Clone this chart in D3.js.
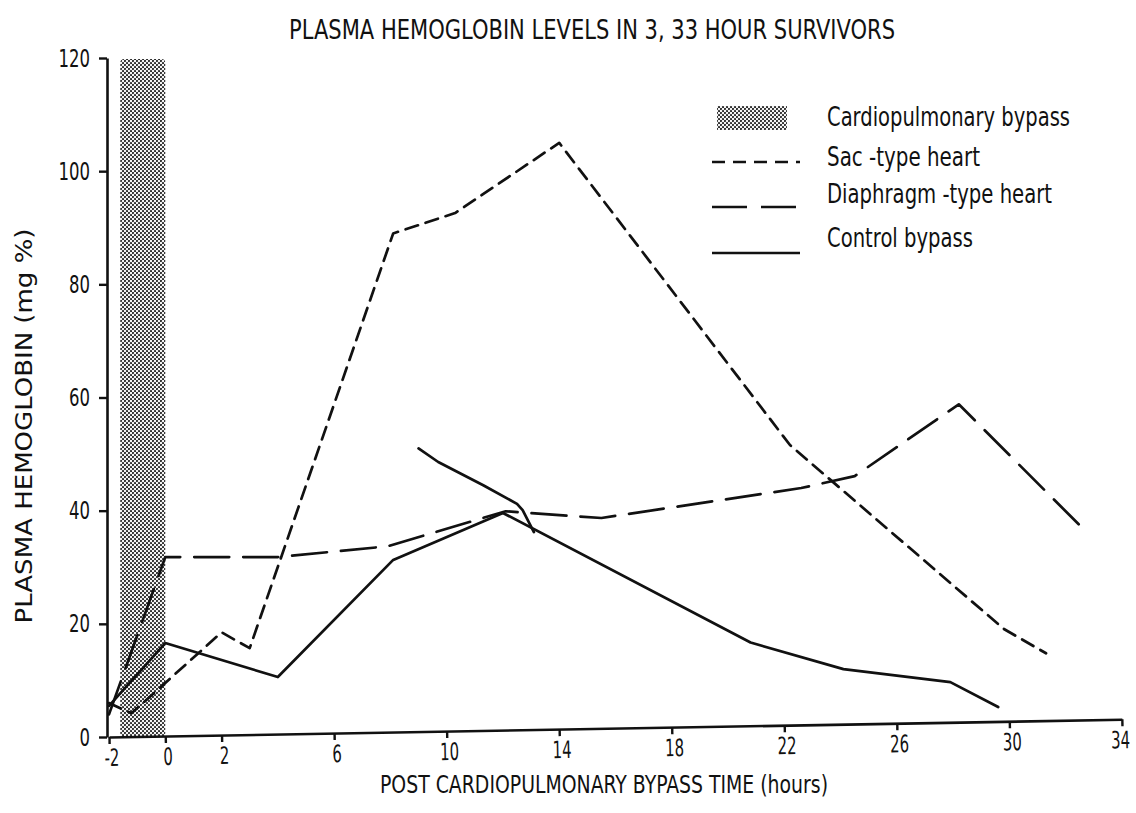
<!DOCTYPE html>
<html>
<head>
<meta charset="utf-8">
<script src="https://cdn.jsdelivr.net/npm/d3@7/dist/d3.min.js"></script>
<style>
  html, body { margin: 0; padding: 0; background: #ffffff; }
  svg { display: block; }
  text { font-family: "Liberation Sans Narrow", "DejaVu Sans Condensed", "Roboto Condensed", "Arial Narrow", "DejaVu Sans", sans-serif; fill: #111; }
</style>
</head>
<body>
<svg id="chart" width="1136" height="813"></svg>
<script>
// Axis ticks
const xTicks = [-2, 0, 2, 6, 10, 14, 18, 22, 26, 30, 34];
const yTicks = [0, 20, 40, 60, 80, 100, 120];

// Cardiopulmonary bypass period (hours)
const bypassStart = -1.6;
const bypassEnd = 0;

// Sac-type heart
const sacHours  = [-2, -1.2, 2, 3, 8.1, 10.3, 14, 22.2, 29.8, 31.3];
const sacValues = [6, 4.2, 18.5, 15.7, 89, 92.6, 105, 51.6, 19.1, 14.8];

// Diaphragm-type heart
const diaHours  = [-2, 0, 4, 7.9, 12.1, 15.5, 22.6, 24.5, 28.2, 32.6];
const diaValues = [4, 31.8, 31.8, 33.7, 39.9, 38.7, 44, 46.1, 58.8, 36.9];

// Control bypass
const ctlHours  = [-2, 0, 4, 8.1, 12, 20.8, 24.1, 27.9, 29.6];
const ctlValues = [5.5, 16.6, 10.6, 31.3, 39.6, 16.7, 12.0, 9.7, 5.3];

// Control bypass, second animal (joins the first at ~13 h)
const ctl2Hours  = [9, 9.7, 11.3, 12.5, 12.7, 13.1];
const ctl2Values = [51, 48.6, 44.5, 41.2, 40.1, 36.2];

const legendItems = [
  { label: "Cardiopulmonary bypass", kind: "band" },
  { label: "Sac -type heart", kind: "sac" },
  { label: "Diaphragm -type heart", kind: "dia" },
  { label: "Control bypass", kind: "ctl" }
];

const svg = d3.select("#chart");

const x = d3.scaleLinear().domain([-2, 34]).range([109, 1122]);
const y = d3.scaleLinear().domain([0, 120]).range([737, 58]);

const styles = {
  sac: { dash: "13,8", width: 2.7 },
  dia: { dash: "35,14", width: 2.7 },
  ctl: { dash: null, width: 2.7 }
};

// width a narrow typewriter-style label takes
const labelWidth = s => Array.from(s).reduce((w, c) => w + (c === "-" ? 7 : 10.5), 0);

// halftone pattern for the bypass band
const defs = svg.append("defs");
const pat = defs.append("pattern")
  .attr("id", "halftone")
  .attr("patternUnits", "userSpaceOnUse")
  .attr("width", 4).attr("height", 4);
pat.append("rect").attr("width", 4).attr("height", 4).attr("fill", "#f4f4f4");
pat.append("circle").attr("cx", 1).attr("cy", 1).attr("r", 1.05).attr("fill", "#222");
pat.append("circle").attr("cx", 3).attr("cy", 3).attr("r", 1.05).attr("fill", "#222");

// bypass band
svg.append("rect")
  .attr("x", x(bypassStart))
  .attr("y", y(120) + 1)
  .attr("width", x(bypassEnd) - x(bypassStart))
  .attr("height", y(0) - y(120) - 1)
  .attr("rx", 4)
  .attr("fill", "url(#halftone)");

// series
const line = d3.line().x(d => x(d[0])).y(d => y(d[1]));
function drawSeries(hours, values, style) {
  svg.append("path")
    .datum(d3.zip(hours, values))
    .attr("d", line)
    .attr("fill", "none")
    .attr("stroke", "#111")
    .attr("stroke-width", style.width)
    .attr("stroke-linejoin", "round")
    .attr("stroke-linecap", "round")
    .attr("stroke-dasharray", style.dash);
}
drawSeries(sacHours, sacValues, styles.sac);
drawSeries(diaHours, diaValues, styles.dia);
drawSeries(ctlHours, ctlValues, styles.ctl);
drawSeries(ctl2Hours, ctl2Values, styles.ctl);

// y axis
const yAxis = svg.append("g")
  .attr("transform", `translate(${x(-2) - 2},0)`)
  .call(d3.axisLeft(y).tickValues(yTicks).tickFormat(d => String(d))
    .tickSize(8).tickSizeOuter(0).tickPadding(9));
yAxis.attr("font-family", null);
yAxis.select(".domain").attr("stroke", "#111").attr("stroke-width", 2.6);
yAxis.selectAll(".tick line").attr("stroke", "#111").attr("stroke-width", 2.4);
yAxis.selectAll(".tick text").attr("font-size", 25).attr("fill", "#111")
  .attr("textLength", d => labelWidth(String(d)))
  .attr("lengthAdjust", "spacingAndGlyphs");

// x axis (baseline drawn with a slight tilt); labels squeezed horizontally
const xAxis = svg.append("g")
  .attr("transform", `translate(0,${y(0)}) rotate(-1.0,${x(-2)},0)`)
  .call(d3.axisBottom(x).tickValues(xTicks).tickFormat(d => String(d))
    .tickSize(7).tickSizeOuter(0).tickPadding(5));
xAxis.attr("font-family", null);
xAxis.select(".domain").attr("stroke", "#111").attr("stroke-width", 2.6);
xAxis.selectAll(".tick line").attr("stroke", "#111").attr("stroke-width", 2.4);
xAxis.selectAll(".tick text").attr("font-size", 24).attr("fill", "#111")
  .attr("dx", d => (d === 34 ? -3 : 3))
  .attr("transform", "scale(0.69,1)");

// title
svg.append("text")
  .attr("x", 289).attr("y", 39)
  .attr("font-size", 27)
  .attr("textLength", 606).attr("lengthAdjust", "spacingAndGlyphs")
  .text("PLASMA HEMOGLOBIN LEVELS IN 3, 33 HOUR SURVIVORS");

// axis titles
svg.append("text")
  .attr("transform", "translate(32,426) rotate(-90)")
  .attr("text-anchor", "middle")
  .attr("font-size", 23)
  .attr("textLength", 395).attr("lengthAdjust", "spacingAndGlyphs")
  .text("PLASMA HEMOGLOBIN  (mg %)");

svg.append("text")
  .attr("x", 380).attr("y", 793)
  .attr("font-size", 24)
  .attr("textLength", 448).attr("lengthAdjust", "spacingAndGlyphs")
  .text("POST CARDIOPULMONARY BYPASS TIME  (hours)");

// legend
const legendRows = [
  { base: 126, mark: 118, width: 243 },
  { base: 166, mark: 162, width: 153 },
  { base: 203, mark: 207, width: 225 },
  { base: 247, mark: 253, width: 146 }
];
legendItems.forEach((item, i) => {
  const row = legendRows[i];
  if (item.kind === "band") {
    svg.append("rect")
      .attr("x", 717).attr("y", 106)
      .attr("width", 70).attr("height", 24)
      .attr("fill", "url(#halftone)");
  } else {
    const st = styles[item.kind];
    svg.append("line")
      .attr("x1", 712).attr("x2", 800)
      .attr("y1", row.mark).attr("y2", row.mark)
      .attr("stroke", "#111")
      .attr("stroke-width", st.width)
      .attr("stroke-dasharray", st.dash);
  }
  svg.append("text")
    .attr("x", 827).attr("y", row.base)
    .attr("font-size", 26)
    .attr("textLength", row.width).attr("lengthAdjust", "spacingAndGlyphs")
    .text(item.label);
});
</script>
</body>
</html>
